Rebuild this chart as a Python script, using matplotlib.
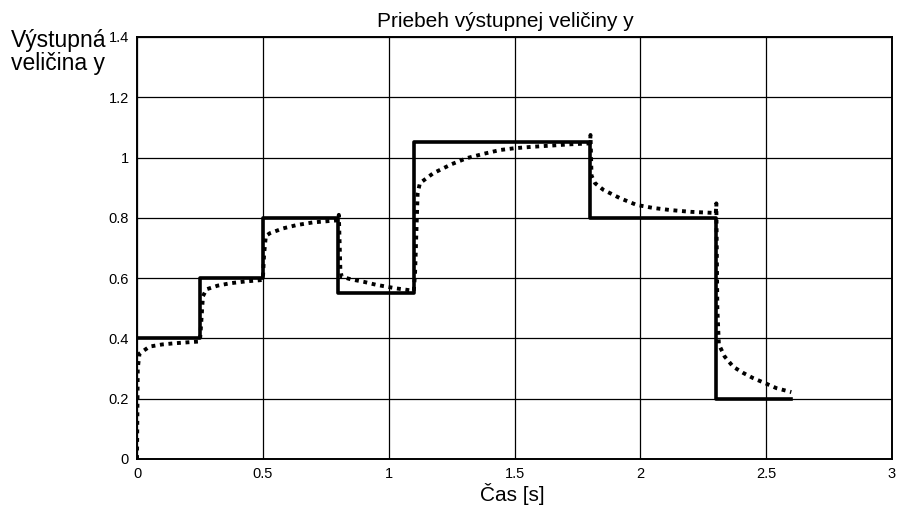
import matplotlib
matplotlib.use("Agg")
import matplotlib.pyplot as plt

plt.rcParams['font.family'] = ['Liberation Sans', 'DejaVu Sans']

# Reference input (piecewise constant steps)
step_t = [0.0, 0.25, 0.5, 0.8, 1.1, 1.8, 2.3, 2.6]
step_y = [0.4, 0.6, 0.8, 0.55, 1.05, 0.8, 0.2, 0.2]

# Measured system output
resp_t = [0.0, 0.003, 0.01, 0.05, 0.1, 0.15, 0.2, 0.25,
          0.255, 0.262, 0.276, 0.32, 0.37, 0.43, 0.5,
          0.505, 0.512, 0.528, 0.58, 0.634, 0.7, 0.8,
          0.802, 0.808, 0.813, 0.85, 0.9, 0.95, 1.03, 1.1,
          1.105, 1.115, 1.124, 1.177, 1.25, 1.31, 1.38, 1.442, 1.5, 1.575, 1.65, 1.72, 1.8,
          1.802, 1.806, 1.82, 1.853, 1.92, 1.985, 2.05, 2.118, 2.2, 2.3,
          2.302, 2.306, 2.312, 2.335, 2.369, 2.41, 2.449, 2.5, 2.541, 2.6]
resp_y = [0.0, 0.30, 0.35, 0.373, 0.38, 0.384, 0.387, 0.39,
          0.45, 0.54, 0.563, 0.575, 0.583, 0.589, 0.594,
          0.68, 0.74, 0.749, 0.765, 0.776, 0.785, 0.792,
          0.81, 0.63, 0.605, 0.596, 0.588, 0.578, 0.566, 0.558,
          0.62, 0.88, 0.915, 0.948, 0.978, 0.998, 1.013, 1.025, 1.031, 1.036, 1.04, 1.044, 1.047,
          1.075, 0.94, 0.915, 0.893, 0.865, 0.843, 0.833, 0.826, 0.82, 0.816,
          0.848, 0.50, 0.38, 0.34, 0.306, 0.285, 0.268, 0.25, 0.235, 0.222]

x_ticks = [0, 0.5, 1, 1.5, 2, 2.5, 3]
x_tick_labels = ['0', '0.5', '1', '1.5', '2', '2.5', '3']
y_ticks = [0, 0.2, 0.4, 0.6, 0.8, 1.0, 1.2, 1.4]
y_tick_labels = ['0', '0.2', '0.4', '0.6', '0.8', '1', '1.2', '1.4']

W, H = 901, 508
fig = plt.figure(figsize=(W / 100, H / 100), dpi=100)
ax = fig.add_axes([137 / W, 1 - 459 / H, (892 - 137) / W, (459 - 37) / H])

ax.step(step_t, step_y, where='post', color='black', lw=2.6, zorder=3)
ax.plot(resp_t, resp_y, color='black', lw=2.8, linestyle=(0, (1, 1.2)), zorder=4)

ax.set_xlim(0, 3)
ax.set_ylim(0, 1.4)
ax.set_xticks(x_ticks)
ax.set_xticklabels(x_tick_labels)
ax.set_yticks(y_ticks)
ax.set_yticklabels(y_tick_labels)
ax.tick_params(length=0, labelsize=10.5, pad=6)
ax.grid(True, color='black', lw=0.9)
ax.set_axisbelow(True)
for s in ax.spines.values():
    s.set_linewidth(1.4)

fig.text(505 / W, 1 - 27 / H, 'Priebeh výstupnej veličiny y', fontsize=15,
         ha='center', va='baseline')
fig.text(512 / W, 1 - 501 / H, 'Čas [s]', fontsize=15,
         ha='center', va='baseline')
fig.text(11 / W, 1 - 47 / H, 'Výstupná', fontsize=16.5, ha='left', va='baseline')
fig.text(11 / W, 1 - 70 / H, 'veličina y', fontsize=16.5, ha='left', va='baseline')

fig.savefig('out.png', dpi=100)
